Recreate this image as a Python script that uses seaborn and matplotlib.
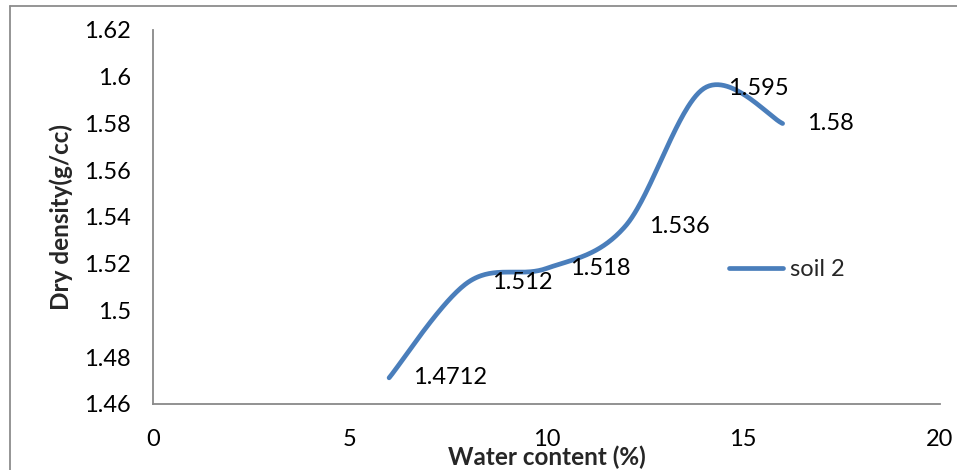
import numpy as np
import pandas as pd
import matplotlib
matplotlib.use("Agg")
import matplotlib.pyplot as plt
import seaborn as sns
from matplotlib.lines import Line2D

# ---- data ----
water_content = [6, 8, 10, 12, 14, 16]
dry_density = [1.4712, 1.512, 1.518, 1.536, 1.595, 1.58]
point_labels = ["1.4712", "1.512", "1.518", "1.536", "1.595", "1.58"]
series_name = "soil 2"
x_ticks = [0, 5, 10, 15, 20]
y_ticks = [1.46, 1.48, 1.50, 1.52, 1.54, 1.56, 1.58, 1.60, 1.62]
y_tick_labels = ["1.46", "1.48", "1.5", "1.52", "1.54", "1.56", "1.58", "1.6", "1.62"]


def smooth_curve(xs, ys, n=60):
    """Catmull-Rom style Bezier smoothing (like Excel's 'smoothed line')."""
    P = np.column_stack([xs, ys]).astype(float)
    out = []
    for i in range(len(P) - 1):
        p0 = P[i - 1] if i > 0 else P[i]
        p1, p2 = P[i], P[i + 1]
        p3 = P[i + 2] if i + 2 < len(P) else P[i + 1]
        c1 = p1 + (p2 - p0) / 6.0
        c2 = p2 - (p3 - p1) / 6.0
        t = np.linspace(0, 1, n)[:, None]
        seg = ((1 - t) ** 3) * p1 + 3 * ((1 - t) ** 2) * t * c1 + 3 * (1 - t) * t ** 2 * c2 + t ** 3 * p2
        if i > 0:
            seg = seg[1:]
        out.append(seg)
    arr = np.vstack(out)
    return arr[:, 0], arr[:, 1]


sns.set_theme(style="white")
plt.rcParams["font.family"] = ["Lato", "DejaVu Sans"]

W, H = 957, 470
fig = plt.figure(figsize=(W / 100, H / 100), dpi=100)
left, right, top, bottom = 153, 940, 30, 404
ax = fig.add_axes([left / W, 1 - bottom / H, (right - left) / W, (bottom - top) / H])

sx, sy = smooth_curve(water_content, dry_density)
curve = pd.DataFrame({"x": sx, "y": sy})
line_color = "#4A7EBB"
sns.lineplot(data=curve, x="x", y="y", sort=False, estimator=None, ax=ax,
             color=line_color, linewidth=3.4, solid_capstyle="round", legend=False)

FS = 17
for xv, yv, lab in zip(water_content, dry_density, point_labels):
    ax.annotate(lab, (xv, yv), xytext=(24, 0), textcoords="offset pixels",
                ha="left", va="center", fontsize=FS, color="black")

ax.set_xlim(0, 20)
ax.set_ylim(1.46, 1.62)
ax.set_xticks(x_ticks)
ax.set_xticklabels([str(v) for v in x_ticks])
ax.set_yticks(y_ticks)
ax.set_yticklabels(y_tick_labels)

axis_gray = "#898989"
for s in ["top", "right"]:
    ax.spines[s].set_visible(False)
for s in ["left", "bottom"]:
    ax.spines[s].set_color(axis_gray)
    ax.spines[s].set_linewidth(1.3)
ax.tick_params(axis="both", which="major", length=5, width=1.3, color=axis_gray,
               labelsize=FS, labelcolor="black")
ax.tick_params(axis="y", direction="out", pad=11)
ax.tick_params(axis="x", direction="out", pad=13)

ax.set_xlabel("Water content (%)", fontsize=17.5, fontweight="bold", labelpad=-3)
ax.set_ylabel("Dry density(g/cc)", fontsize=17.5, fontweight="bold", labelpad=8)

handle = Line2D([0], [0], color=line_color, linewidth=3.4, solid_capstyle="round")
ax.legend([handle], [series_name], loc="center left",
          bbox_to_anchor=((729 - left) / (right - left), (bottom - 270) / (bottom - top)),
          frameon=False, fontsize=FS, handlelength=2.3, handletextpad=0.3,
          borderpad=0, borderaxespad=0)

# outer chart border (top and left visible in reference)
border = "#8c8c8c"
fig.add_artist(Line2D([10 / W, 1.0], [1 - 6 / H, 1 - 6 / H], transform=fig.transFigure,
                      color=border, linewidth=1.3))
fig.add_artist(Line2D([10 / W, 10 / W], [0, 1 - 6 / H], transform=fig.transFigure,
                      color=border, linewidth=1.3))

fig.savefig("out.png", dpi=100)
